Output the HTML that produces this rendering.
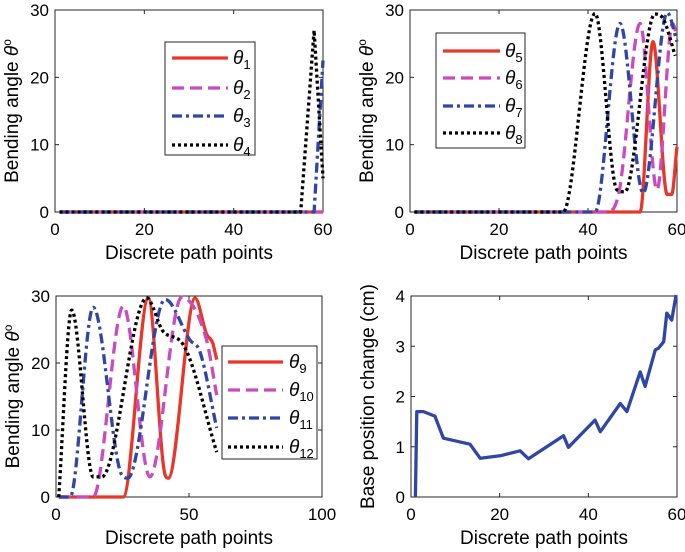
<!DOCTYPE html>
<html><head><meta charset="utf-8"><style>
body{margin:0;background:#fff;}
svg{display:block;font-family:"Liberation Sans",Arial,sans-serif;}
</style></head><body>
<svg id="fig" width="685" height="552" viewBox="0 0 685 552" xmlns="http://www.w3.org/2000/svg"></svg>
<script>
// ---- data ----
const p1x1=[1,60], p1y1=[0,0];
const p1x2=[1,60], p1y2=[0,0];
const p1x3=[1,58,60], p1y3=[0,0,22.5];
const p1x4=[1,55,58,60], p1y4=[0,0,27,5];

const p2x5=[1,51.7,54.6,57.8,58.8,60], p2y5=[0,0,25.3,2.6,2.6,9.7];
const p2x6=[1,44.2,47,51.7,55.5,59,60], p2y6=[0,0,3,28,3.3,28,26];
const p2x7=[1,41.6,47.2,52.4,57.8,60], p2y7=[0,0,28,2.8,29.6,25.3];
const p2x8=[1,34.4,41.6,46.5,48.3,55,56.9,59.6], p2y8=[0,0,29.5,3.3,3,29.4,28.7,23.2];

const p3x9=[1,25.3,34.7,41,42.2,52.3,56.6,58.9,60.4], p3y9=[0,0,29.7,3.3,2.8,29.7,24.3,23,20.5];
const p3x10=[1,14,25.3,35.3,47.2,56.6,60.4], p3y10=[0,0,28.5,3,29.8,23.4,15.2];
const p3x11=[1,5.3,14,24.7,27,41,50.4,54.1,60.4], p3y11=[0,0,28.3,3.3,2.8,29.5,23.4,21.7,10.3];
const p3x12=[1,5.9,14,17.2,34.1,40.3,47.9,60.4], p3y12=[0,27.9,3,3,29.7,24.7,22.7,6.7];

const p4x=[1,1.3,2.8,5.4,7.3,13.3,15.6,20.1,24.6,26.5,34.4,35.5,41.5,42.7,47.2,48.7,51.7,52.8,55.1,55.8,57,57.7,58.8,59.8];
const p4y=[0,1.70,1.70,1.61,1.17,1.05,0.77,0.82,0.92,0.76,1.22,0.99,1.53,1.30,1.86,1.70,2.49,2.20,2.93,2.96,3.09,3.66,3.52,4.02];

const xticks60=[0,20,40,60], xticks100=[0,50,100], yticks30=[0,10,20,30], yticks4=[0,1,2,3,4];

const NS="http://www.w3.org/2000/svg";
const svg=document.getElementById('fig');
function mk(tag,attrs,parent){const e=document.createElementNS(NS,tag);for(const k in attrs)e.setAttribute(k,attrs[k]);(parent||svg).appendChild(e);return e;}

const styles={
 red:{stroke:'#e8372a',dash:''},
 mag:{stroke:'#c94bbf',dash:'12,6'},
 blue:{stroke:'#2f46a6',dash:'10,4,3,4'},
 black:{stroke:'#000',dash:'3,3'}
};

function axes(name,L,R,T,B,xmax,ymax,xt,yt,ylabel){
 const g=mk('g',{});
 
 
 const sx=v=>L+(v/xmax)*(R-L), sy=v=>B-(v/ymax)*(B-T);
 const fr=mk('rect',{x:L,y:T,width:R-L,height:B-T,fill:'none',stroke:'#262626','stroke-width':1},g);
 
 
 xt.forEach(v=>{const x=sx(v);
  mk('line',{x1:x,y1:B,x2:x,y2:B-4,stroke:'#262626'},g);
  mk('line',{x1:x,y1:T,x2:x,y2:T+4,stroke:'#262626'},g);
  const t=mk('text',{x:x,y:B+23,'text-anchor':'middle','font-size':17},g);t.textContent=v;
  
  });
 yt.forEach(v=>{const y=sy(v);
  mk('line',{x1:L,y1:y,x2:L+4,y2:y,stroke:'#262626'},g);
  mk('line',{x1:R,y1:y,x2:R-4,y2:y,stroke:'#262626'},g);
  const t=mk('text',{x:L-6,y:y+6,'text-anchor':'end','font-size':17},g);t.textContent=v;
  
  });
 const xl=mk('text',{x:(L+R)/2,y:B+47,'text-anchor':'middle','font-size':19},g);xl.textContent='Discrete path points';
 
 
 const cy=(T+B)/2;
 const yl=mk('text',{x:L-37,y:cy,'text-anchor':'middle','font-size':19,transform:`rotate(-90 ${L-37} ${cy})`},g);
 
 
 if(ylabel){yl.textContent=ylabel;}else{
  yl.appendChild(document.createTextNode('Bending angle '));
  const th=mk('tspan',{'font-style':'italic'},yl);th.textContent='θ';
  const o=mk('tspan',{dy:-7,'font-size':12},yl);o.textContent='o';
 }
 return {g,sx,sy};
}
// monotone cubic (Fritsch-Carlson) path in pixel space
function smoothPath(P){
 const n=P.length; if(n<3) return P.map((p,i)=>(i?'L':'M')+p[0].toFixed(1)+','+p[1].toFixed(1)).join(' ');
 const d=[],m=[];
 for(let i=0;i<n-1;i++){d.push((P[i+1][1]-P[i][1])/(P[i+1][0]-P[i][0]));}
 m[0]=d[0]; m[n-1]=d[n-2];
 for(let i=1;i<n-1;i++){m[i]=(d[i-1]*d[i]<=0)?0:(d[i-1]+d[i])/2;}
 for(let i=0;i<n-1;i++){
  if(d[i]===0){m[i]=0;m[i+1]=0;continue;}
  const a=m[i]/d[i],b=m[i+1]/d[i],s=a*a+b*b;
  if(s>9){const t=3/Math.sqrt(s);m[i]=t*a*d[i];m[i+1]=t*b*d[i];}
 }
 let s='M'+P[0][0].toFixed(1)+','+P[0][1].toFixed(1);
 for(let i=0;i<n-1;i++){
  const h=(P[i+1][0]-P[i][0])/3;
  s+=` C${(P[i][0]+h).toFixed(1)},${(P[i][1]+m[i]*h).toFixed(1)} ${(P[i+1][0]-h).toFixed(1)},${(P[i+1][1]-m[i+1]*h).toFixed(1)} ${P[i+1][0].toFixed(1)},${P[i+1][1].toFixed(1)}`;
 }
 return s;
}
function series(ax,xs,ys,st,name,smooth){
 const P=xs.map((x,i)=>[ax.sx(x),ax.sy(ys[i])]);
 const d=smooth?smoothPath(P):P.map((p,i)=>(i?'L':'M')+p[0].toFixed(1)+','+p[1].toFixed(1)).join(' ');
 const p=mk('path',{d:d,fill:'none',stroke:st.stroke,'stroke-width':3.3,'stroke-dasharray':st.dash,'stroke-linejoin':'round'},ax.g);
 
 
}
function legend(name,x,y,w,h,entries,ys,lx1,lx2,tx){
 const g=mk('g',{});
 
 
 mk('rect',{x:x,y:y,width:w,height:h,fill:'#fff',stroke:'#262626'},g);
 entries.forEach((e,i)=>{
  const ey=ys[i];
  const gg=mk('g',{},g);
  
  
  mk('line',{x1:lx1,y1:ey,x2:lx2,y2:ey,stroke:e[0].stroke,'stroke-width':3.3,'stroke-dasharray':e[0].dash},gg);
  const t=mk('text',{x:tx,y:ey+6,'font-size':19},gg);
  const th=mk('tspan',{'font-style':'italic'},t);th.textContent='θ';
  const s=mk('tspan',{dy:5,'font-size':13},t);s.textContent=e[1];
 });
}

const a1=axes('panel-top-left',55,323,10,212,60,30,xticks60,yticks30);
series(a1,p1x1,p1y1,styles.red,'line-theta1',true);
series(a1,p1x2,p1y2,styles.mag,'line-theta2',true);
series(a1,p1x3,p1y3,styles.blue,'line-theta3',false);
series(a1,p1x4,p1y4,styles.black,'line-theta4',false);
legend('legend-top-left',165,42,90,113,[[styles.red,'1'],[styles.mag,'2'],[styles.blue,'3'],[styles.black,'4']],[58,88,116,145],172,228,233);

const a2=axes('panel-top-right',410,677,10,212,60,30,xticks60,yticks30);
series(a2,p2x5,p2y5,styles.red,'line-theta5',true);
series(a2,p2x6,p2y6,styles.mag,'line-theta6',true);
series(a2,p2x7,p2y7,styles.blue,'line-theta7',true);
series(a2,p2x8,p2y8,styles.black,'line-theta8',true);
legend('legend-top-right',436,33,89,115,[[styles.red,'5'],[styles.mag,'6'],[styles.blue,'7'],[styles.black,'8']],[51,78,106,133],443,500,505);

const a3=axes('panel-bottom-left',56,322,296,497,100,30,xticks100,yticks30);
series(a3,p3x9,p3y9,styles.red,'line-theta9',true);
series(a3,p3x10,p3y10,styles.mag,'line-theta10',true);
series(a3,p3x11,p3y11,styles.blue,'line-theta11',true);
series(a3,p3x12,p3y12,styles.black,'line-theta12',true);
legend('legend-bottom-left',222,346,95,113,[[styles.red,'9'],[styles.mag,'10'],[styles.blue,'11'],[styles.black,'12']],[362,390,418,447],228,283,289);

const a4=axes('panel-bottom-right',411,677,296,497,60,4,xticks60,yticks4,'Base position change (cm)');
series(a4,p4x,p4y,{stroke:'#2f46a6',dash:''},'line-base-position',false);
</script>
</body></html>
